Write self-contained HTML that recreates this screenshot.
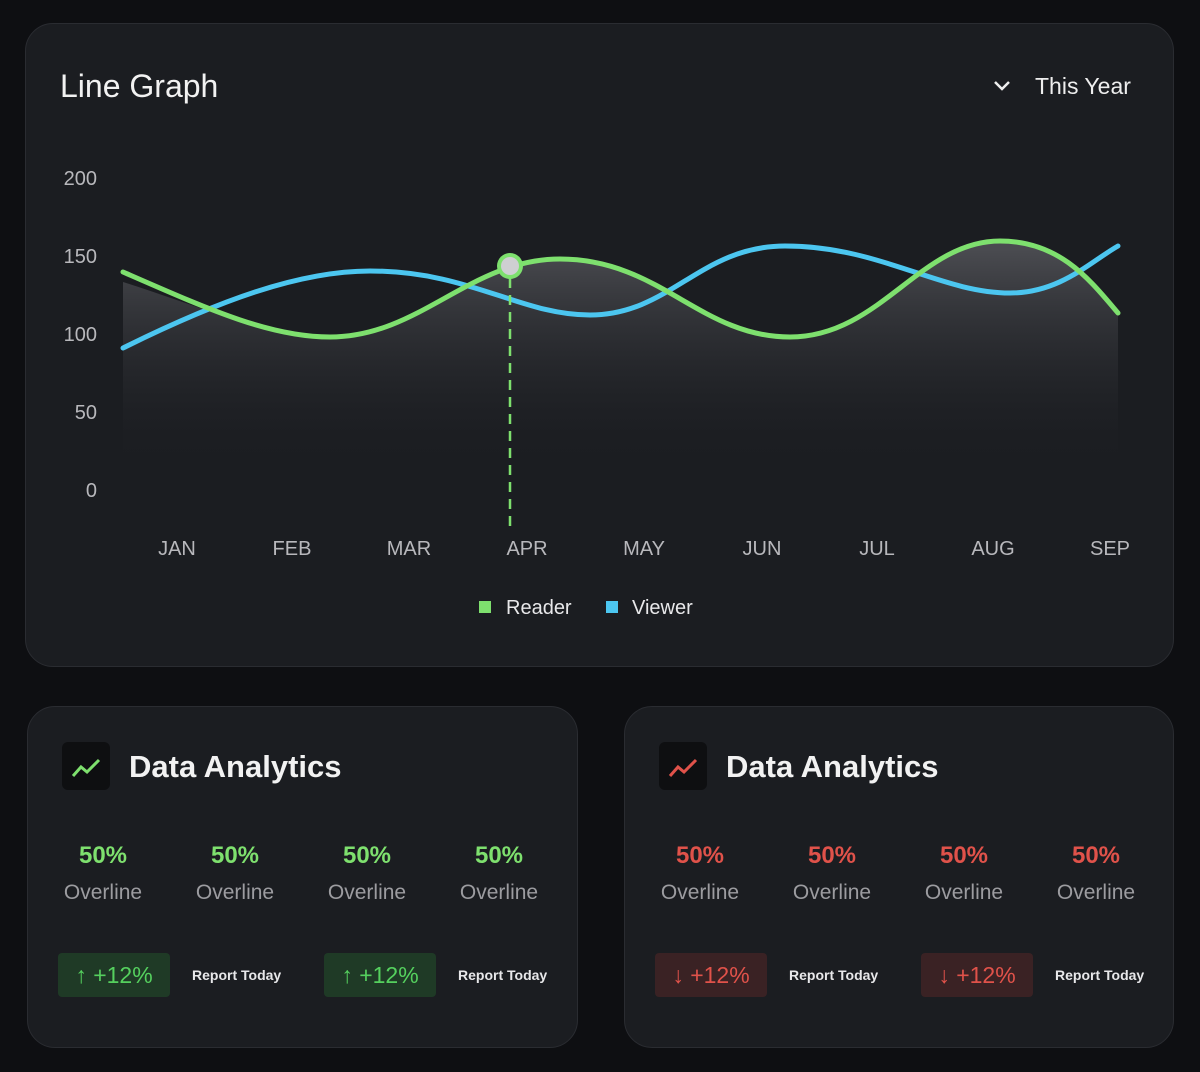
<!DOCTYPE html>
<html><head><meta charset="utf-8"><style>
body{margin:0;width:1200px;height:1072px;background:#0e0f12;font-family:"Liberation Sans",sans-serif;overflow:hidden;position:relative}
.card{position:absolute;background:#1b1d21;border:1.5px solid #2a2c31;border-radius:28px;box-sizing:border-box}
.t{position:absolute;white-space:nowrap}
</style></head><body>
<div class="card" style="left:25px;top:23px;width:1149px;height:644px"></div>
<div class="card" style="left:27px;top:706px;width:551px;height:342px"></div>
<div class="card" style="left:624px;top:706px;width:550px;height:342px"></div>
<svg width="1200" height="1072" style="position:absolute;left:0;top:0">
<defs><linearGradient id="g" gradientUnits="userSpaceOnUse" x1="0" y1="250" x2="0" y2="470">
<stop offset="0" stop-color="#4a4b50"/><stop offset="1" stop-color="#1b1d21" stop-opacity="0"/></linearGradient></defs>
<g font-family="Liberation Sans" font-size="20" fill="#b8b8bc" text-anchor="end">
<text x="97" y="185">200</text><text x="97" y="263">150</text><text x="97" y="341">100</text><text x="97" y="419">50</text><text x="97" y="497">0</text></g>
<g font-family="Liberation Sans" font-size="20" fill="#b8b8bc" text-anchor="middle">
<text x="177" y="555">JAN</text><text x="292" y="555">FEB</text><text x="409" y="555">MAR</text><text x="527" y="555">APR</text><text x="644" y="555">MAY</text><text x="762" y="555">JUN</text><text x="877" y="555">JUL</text><text x="993" y="555">AUG</text><text x="1110" y="555">SEP</text></g>
<path d="M123,282 C210,310 270,337 330,337 C420,337 470,259 560,259 C660,259 700,337 790,337 C880,337 920,241 1000,241 C1060,241 1090,280 1118,313 L1118,470 L123,470 Z" fill="url(#g)"/>
<path d="M123,348 C220,300 300,271 370,271 C470,271 520,315 590,315 C670,315 700,246 785,246 C880,246 940,293 1010,293 C1060,293 1090,262 1118,246" fill="none" stroke="#4cc6f0" stroke-width="5" stroke-linecap="round"/>
<path d="M123,272 C210,310 270,337 330,337 C420,337 470,259 560,259 C660,259 700,337 790,337 C880,337 920,241 1000,241 C1060,241 1090,280 1118,313" fill="none" stroke="#7ee06e" stroke-width="5" stroke-linecap="round"/>
<line x1="510" y1="278" x2="510" y2="530" stroke="#7ee06e" stroke-width="2.5" stroke-dasharray="10,7"/>
<circle cx="510" cy="266" r="13" fill="#7ee06e"/><circle cx="510" cy="266" r="9" fill="#cfcfd2"/>
<rect x="479" y="601" width="12" height="12" fill="#7ee06e"/><rect x="606" y="601" width="12" height="12" fill="#4cc6f0"/>
<text x="506" y="614" font-family="Liberation Sans" font-size="20" fill="#e8e8ea">Reader</text>
<text x="632" y="614" font-family="Liberation Sans" font-size="20" fill="#e8e8ea">Viewer</text>
<text x="60" y="97" font-family="Liberation Sans" font-size="32" fill="#f2f2f2">Line Graph</text>
<path d="M995,82 L1002,89 L1009,82" fill="none" stroke="#eee" stroke-width="2.5"/>
<text x="1035" y="94" font-family="Liberation Sans" font-size="23" fill="#eee">This Year</text>
<rect x="62" y="742" width="48" height="48" rx="6" fill="#0e0f11"/>
<path d="M73,776 L81,767 L87,772 L99,760" fill="none" stroke="#7ee06e" stroke-width="3"/>
<rect x="659" y="742" width="48" height="48" rx="6" fill="#0e0f11"/>
<path d="M670,776 L678,767 L684,772 L696,760" fill="none" stroke="#e0524a" stroke-width="3"/>
<rect x="58" y="953" width="112" height="44" rx="4" fill="#1f3a26"/>
<rect x="324" y="953" width="112" height="44" rx="4" fill="#1f3a26"/>
<rect x="655" y="953" width="112" height="44" rx="4" fill="#3a2224"/>
<rect x="921" y="953" width="112" height="44" rx="4" fill="#3a2224"/>
</svg>
<div class="t" style="left:129px;top:749px;font-size:31px;font-weight:bold;color:#f2f2f2">Data Analytics</div>
<div class="t" style="left:726px;top:749px;font-size:31px;font-weight:bold;color:#f2f2f2">Data Analytics</div>
<div id="cols"></div>
<script>
var h='';
[[103,'#7ee06e'],[235,'#7ee06e'],[367,'#7ee06e'],[499,'#7ee06e'],[700,'#e0524a'],[832,'#e0524a'],[964,'#e0524a'],[1096,'#e0524a']].forEach(function(c){
h+='<div class="t" style="left:'+(c[0]-60)+'px;width:120px;text-align:center;top:842px;font-size:24px;font-weight:bold;color:'+c[1]+'">50%</div>';
h+='<div class="t" style="left:'+(c[0]-60)+'px;width:120px;text-align:center;top:881px;font-size:21px;color:#9c9ca0">Overline</div>';});
[[58,'#55d05e','↑'],[324,'#55d05e','↑'],[655,'#e0524a','↓'],[921,'#e0524a','↓']].forEach(function(b){
h+='<div class="t" style="left:'+b[0]+'px;width:112px;text-align:center;top:962px;font-size:23px;color:'+b[1]+'">'+b[2]+' +12%</div>';
h+='<div class="t" style="left:'+(b[0]+134)+'px;top:967px;font-size:14px;font-weight:bold;color:#e8e8ea">Report Today</div>';});
document.getElementById('cols').innerHTML=h;
</script>
</body></html>
